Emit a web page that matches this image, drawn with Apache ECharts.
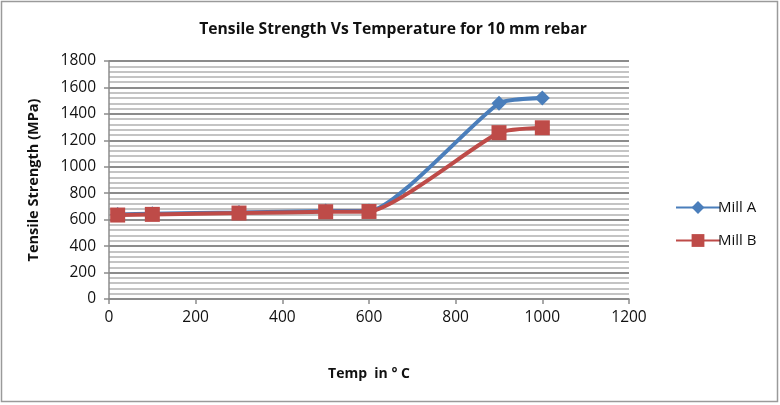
<!DOCTYPE html>
<html>
<head>
<meta charset="utf-8">
<script src="https://cdn.jsdelivr.net/npm/echarts@6/dist/echarts.min.js"></script>
<style>
  html, body { margin: 0; padding: 0; background: #fff; }
  #chart { width: 780px; height: 405px; }
</style>
</head>
<body>
<div id="chart"></div>
<script>
// Tensile strength of 10 mm rebar at elevated temperatures, two mills
const temps = [20, 100, 300, 500, 600, 900, 1000];
const millA = [640, 645, 655, 665, 665, 1480, 1520];
const millB = [635, 640, 650, 660, 662, 1258, 1295];
const seriesNames = ['Mill A', 'Mill B'];

const FONT = 'Open Sans';
const chart = echarts.init(document.getElementById('chart'));

const pairs = (xs, ys) => xs.map((x, i) => [x, ys[i]]);
const plain = v => String(v);

chart.setOption({
  animation: false,
  backgroundColor: '#fff',
  title: {
    text: 'Tensile Strength Vs Temperature for 10 mm rebar',
    left: 388, top: 17, textAlign: 'center',
    textStyle: { fontFamily: FONT, fontSize: 15.7, fontWeight: 'bold', color: '#111' }
  },
  grid: { left: 109, right: 151, top: 61, bottom: 106 },
  legend: {
    orient: 'vertical',
    left: 670, top: 195,
    itemWidth: 44, itemHeight: 16, itemGap: 18,
    textStyle: { fontFamily: FONT, fontSize: 15, color: '#111', padding: [0, 0, 0, -7] },
    data: seriesNames
  },
  xAxis: {
    type: 'value', min: 0, max: 1200, interval: 200,
    name: 'Temp  in ° C', nameLocation: 'middle', nameGap: 68,
    nameTextStyle: { fontFamily: FONT, fontSize: 14, fontWeight: 'bold', color: '#111' },
    axisLine: { show: true, lineStyle: { color: '#8c8c8c', width: 1.5 } },
    axisTick: { show: true, length: 5, lineStyle: { color: '#8c8c8c', width: 1.5 } },
    axisLabel: { fontFamily: FONT, fontSize: 15.5, color: '#111', margin: 11, formatter: plain },
    splitLine: { show: false }
  },
  yAxis: {
    type: 'value', min: 0, max: 1800, interval: 200,
    name: 'Tensile Strength (MPa)', nameLocation: 'middle', nameGap: 68,
    nameTextStyle: { fontFamily: FONT, fontSize: 14.5, fontWeight: 'bold', color: '#111' },
    axisLine: { show: true, lineStyle: { color: '#8c8c8c', width: 1.5 } },
    axisTick: { show: true, length: 5, lineStyle: { color: '#8c8c8c', width: 1.5 } },
    axisLabel: { fontFamily: FONT, fontSize: 15.5, color: '#111', margin: 13, formatter: plain },
    splitLine: { show: true, lineStyle: { color: '#8c8c8c', width: 2 } },
    minorTick: { show: false, splitNumber: 5 },
    minorSplitLine: { show: true, lineStyle: { color: '#c4c4c4', width: 2 } }
  },
  series: [
    {
      name: seriesNames[0], type: 'line', smooth: 0.18,
      data: pairs(temps, millA),
      symbol: 'diamond', symbolSize: 15,
      itemStyle: { color: '#4a7ebb' },
      lineStyle: { color: '#4a7ebb', width: 4 },
      z: 2
    },
    {
      name: seriesNames[1], type: 'line', smooth: 0.18,
      data: pairs(temps, millB),
      symbol: 'rect', symbolSize: 15,
      itemStyle: { color: '#be4b48' },
      lineStyle: { color: '#be4b48', width: 4 },
      z: 3
    }
  ],
  graphic: [{
    type: 'rect', silent: true, z: -1,
    shape: { x: 1.5, y: 1.5, width: 776, height: 400 },
    style: { fill: 'none', stroke: '#9a9a9a', lineWidth: 1.5 }
  }]
});
</script>
</body>
</html>
